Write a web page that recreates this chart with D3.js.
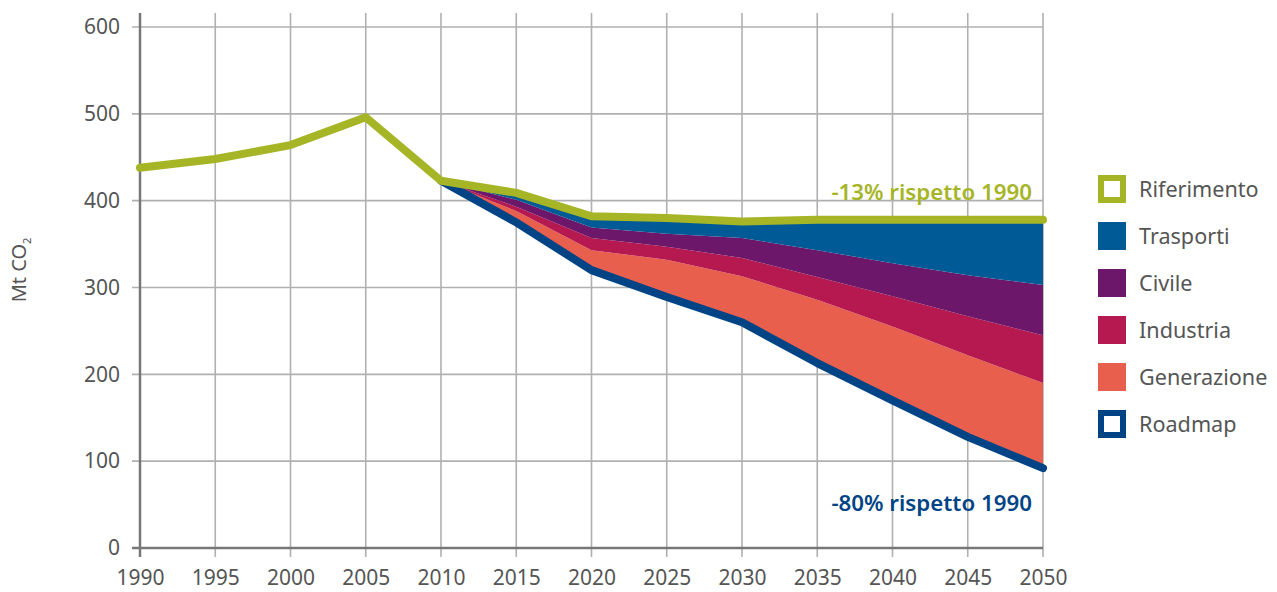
<!DOCTYPE html>
<html><head><meta charset="utf-8">
<script src="https://cdn.jsdelivr.net/npm/d3@7"></script>
<style>
html,body{margin:0;padding:0;background:#fff;}
svg{display:block;font-family:"Noto Sans",sans-serif;}
</style></head>
<body>
<svg id="c" width="1277" height="592"></svg>
<script>
// ---- data ----
const refYears = [1990,1995,2000,2005,2010,2015,2020,2025,2030,2035,2040,2045,2050];
const riferimento = [438,448,464,496,423,409,382,380,376,378,378,378,378];
const scenYears = [2010,2015,2020,2025,2030,2035,2040,2045,2050];
const roadmap     = [423,375,320,289,260,213,170,128,92];
const generazione = [0,13,23,43,53,73,85,94,98];
const industria   = [0,5,14,15,21,26,35,45,55];
const civile      = [0,8,12,15,23,31,38,47,58];
const trasporti   = [0,8,13,18,19,35,50,64,75];
const xTicks = [1990,1995,2000,2005,2010,2015,2020,2025,2030,2035,2040,2045,2050];
const yTicks = [0,100,200,300,400,500,600];
const legendLabels = ["Riferimento","Trasporti","Civile","Industria","Generazione","Roadmap"];
const noteRef = "-13% rispetto 1990";
const noteRoad = "-80% rispetto 1990";

const colors = {Riferimento:"#a6b526",Trasporti:"#005a96",Civile:"#6d176a",Industria:"#b5194f",Generazione:"#e95f4e",Roadmap:"#004486"};

const svg = d3.select("#c");
const x = d3.scaleLinear().domain([1990,2050]).range([140,1043]);
const y = d3.scaleLinear().domain([0,600]).range([548,27]);

// grid
const g = svg.append("g");
g.selectAll("line.h").data(yTicks.filter(d=>d>0)).join("line")
  .attr("x1",132).attr("x2",x(2050)).attr("y1",d=>y(d)).attr("y2",d=>y(d))
  .attr("stroke","#b0b0b0").attr("stroke-width",1.6);
g.selectAll("line.v").data(xTicks.filter(d=>d>1990)).join("line")
  .attr("x1",d=>x(d)).attr("x2",d=>x(d)).attr("y1",13).attr("y2",557)
  .attr("stroke","#b0b0b0").attr("stroke-width",1.6);

// stacked areas
const rows = scenYears.map((yr,i)=>({year:yr, base:roadmap[i], Generazione:generazione[i], Industria:industria[i], Civile:civile[i], Trasporti:trasporti[i]}));
const keys = ["base","Generazione","Industria","Civile","Trasporti"];
const stack = d3.stack().keys(keys)(rows);
const area = d3.area().x(d=>x(d.data.year)).y0(d=>y(d[0])).y1(d=>y(d[1]));
svg.append("g").selectAll("path").data(stack.filter(s=>s.key!=="base")).join("path")
  .attr("d",area).attr("fill",d=>colors[d.key]);

// axes lines
svg.append("line").attr("x1",x(1990)).attr("x2",x(1990)).attr("y1",13).attr("y2",557)
  .attr("stroke","#777").attr("stroke-width",2.5);
svg.append("line").attr("x1",132).attr("x2",x(2050)).attr("y1",y(0)).attr("y2",y(0))
  .attr("stroke","#777").attr("stroke-width",2.5);

// axis labels via d3 axes
const yAxis = d3.axisLeft(y).tickValues(yTicks).tickSize(0).tickPadding(20);
const ya = svg.append("g").attr("transform","translate(140,0)").call(yAxis);
ya.select(".domain").remove();
ya.selectAll("text").attr("font-size",21).attr("fill","#555").attr("font-family","Noto Sans");
const xAxis = d3.axisBottom(x).tickValues(xTicks).tickFormat(d3.format("d")).tickSize(0).tickPadding(22);
const xa = svg.append("g").attr("transform",`translate(0,${y(0)})`).call(xAxis);
xa.select(".domain").remove();
xa.selectAll("text").attr("font-size",21).attr("fill","#555").attr("font-family","Noto Sans");

// y title
const yt = svg.append("text").attr("transform","translate(26,270) rotate(-90)")
  .attr("text-anchor","middle").attr("font-size",20).attr("fill","#555");
yt.append("tspan").text("Mt CO");
yt.append("tspan").attr("font-size",11).attr("dy",5).text("2");

// lines
const line = d3.line().x(d=>x(d[0])).y(d=>y(d[1]));
svg.append("path").datum(scenYears.map((d,i)=>[d,roadmap[i]])).attr("d",line)
  .attr("fill","none").attr("stroke",colors.Roadmap).attr("stroke-width",8)
  .attr("stroke-linejoin","round").attr("stroke-linecap","round");
svg.append("path").datum(refYears.map((d,i)=>[d,riferimento[i]])).attr("d",line)
  .attr("fill","none").attr("stroke",colors.Riferimento).attr("stroke-width",8)
  .attr("stroke-linejoin","round").attr("stroke-linecap","round");

// notes
svg.append("text").attr("x",x(2050)-11).attr("y",y(riferimento[12])-20).attr("text-anchor","end")
  .attr("font-size",22.3).attr("font-weight",600).attr("fill",colors.Riferimento).text(noteRef);
svg.append("text").attr("x",x(2050)-11).attr("y",y(roadmap[8])+43).attr("text-anchor","end")
  .attr("font-size",22.3).attr("font-weight",600).attr("fill",colors.Roadmap).text(noteRoad);

// legend
const lg = svg.append("g").selectAll("g").data(legendLabels).join("g")
  .attr("transform",(d,i)=>`translate(1098,${189+i*47})`);
lg.each(function(d){
  const s = d3.select(this);
  const hollow = (d==="Riferimento"||d==="Roadmap");
  if(hollow){
    s.append("rect").attr("x",3).attr("y",-11).attr("width",22).attr("height",22)
      .attr("fill","#fff").attr("stroke",colors[d]).attr("stroke-width",6);
  } else {
    s.append("rect").attr("x",0).attr("y",-14).attr("width",28).attr("height",28).attr("fill",colors[d]);
  }
  s.append("text").attr("x",41).attr("y",0).attr("dy","0.35em").attr("font-size",21.6)
    .attr("fill","#555").text(d);
});
</script>
</body></html>
